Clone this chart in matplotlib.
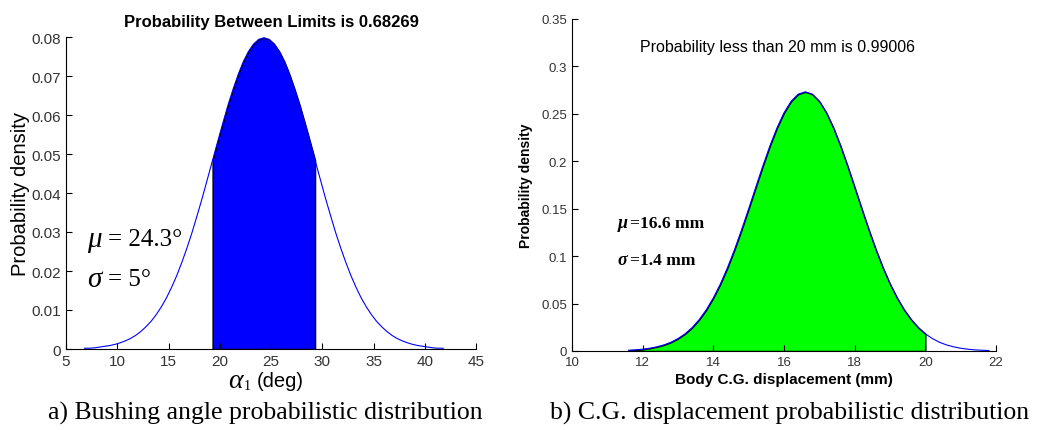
import numpy as np
import matplotlib
matplotlib.use("Agg")
import matplotlib.pyplot as plt

plt.rcParams['font.family'] = ['Liberation Sans', 'DejaVu Sans']

# ---- panel a: bushing angle ----
angle_x = [6.8, 7.3, 7.8, 8.3, 8.8, 9.3, 9.8, 10.3, 10.8, 11.3, 11.8, 12.3,
           12.8, 13.3, 13.8, 14.3, 14.8, 15.3, 15.8, 16.3, 16.8, 17.3, 17.8,
           18.3, 18.8, 19.3, 19.8, 20.3, 20.8, 21.3, 21.8, 22.3, 22.8, 23.3,
           23.8, 24.3, 24.8, 25.3, 25.8, 26.3, 26.8, 27.3, 27.8, 28.3, 28.8,
           29.3, 29.8, 30.3, 30.8, 31.3, 31.8, 32.3, 32.8, 33.3, 33.8, 34.3,
           34.8, 35.3, 35.8, 36.3, 36.8, 37.3, 37.8, 38.3, 38.8, 39.3, 39.8,
           40.3, 40.8, 41.3, 41.8]
angle_pdf = [0.0002, 0.0002, 0.0003, 0.0005, 0.0007, 0.0009, 0.0012, 0.0016,
             0.0021, 0.0027, 0.0035, 0.0045, 0.0057, 0.0071, 0.0088, 0.0108,
             0.0131, 0.0158, 0.0188, 0.0222, 0.0259, 0.0299, 0.0343, 0.0388,
             0.0436, 0.0484, 0.0532, 0.0579, 0.0625, 0.0666, 0.0704, 0.0737,
             0.0763, 0.0782, 0.0794, 0.0798, 0.0794, 0.0782, 0.0763, 0.0737,
             0.0704, 0.0666, 0.0625, 0.0579, 0.0532, 0.0484, 0.0436, 0.0388,
             0.0343, 0.0299, 0.0259, 0.0222, 0.0188, 0.0158, 0.0131, 0.0108,
             0.0088, 0.0071, 0.0057, 0.0045, 0.0035, 0.0027, 0.0021, 0.0016,
             0.0012, 0.0009, 0.0007, 0.0005, 0.0003, 0.0002, 0.0002]
angle_lo, angle_hi = 19.3, 29.3

# ---- panel b: body C.G. displacement ----
cg_x = [11.6, 11.8, 12.0, 12.2, 12.4, 12.6, 12.8, 13.0, 13.2, 13.4, 13.6,
        13.8, 14.0, 14.2, 14.4, 14.6, 14.8, 15.0, 15.2, 15.4, 15.6, 15.8,
        16.0, 16.2, 16.4, 16.6, 16.8, 17.0, 17.2, 17.4, 17.6, 17.8, 18.0,
        18.2, 18.4, 18.6, 18.8, 19.0, 19.2, 19.4, 19.6, 19.8, 20.0, 20.2,
        20.4, 20.6, 20.8, 21.0, 21.2, 21.4, 21.6, 21.8]
cg_pdf = [0.0008, 0.0012, 0.0019, 0.0029, 0.0044, 0.0064, 0.0092, 0.0131,
          0.0181, 0.0247, 0.0331, 0.0434, 0.0560, 0.0707, 0.0878, 0.1069,
          0.1278, 0.1499, 0.1725, 0.1949, 0.2161, 0.2351, 0.2511, 0.2632,
          0.2707, 0.2732, 0.2707, 0.2632, 0.2511, 0.2351, 0.2161, 0.1949,
          0.1725, 0.1499, 0.1278, 0.1069, 0.0878, 0.0707, 0.0560, 0.0434,
          0.0331, 0.0247, 0.0181, 0.0131, 0.0092, 0.0064, 0.0044, 0.0029,
          0.0019, 0.0012, 0.0008, 0.0005]
cg_limit = 20.0

W, H = 1038, 431
fig = plt.figure(figsize=(W/100, H/100), dpi=100)

def style(ax, tsize):
    for s in ['top', 'right']:
        ax.spines[s].set_visible(False)
    ax.tick_params(direction='in', length=4, labelsize=tsize, labelcolor='#333333')

# left
ax1 = fig.add_axes([66/W, 1-350/H, 410/W, 312/H])
style(ax1, 11)
x = np.array(angle_x); y = np.array(angle_pdf)
ax1.plot(x, y, color='blue', lw=0.8)
m = (x >= angle_lo) & (x <= angle_hi)
ax1.fill_between(x[m], y[m], color='blue', edgecolor='black', lw=1)
ax1.set_xlim(5, 45)
ax1.set_ylim(0, 0.08)
ax1.set_xticks(np.arange(5, 46, 5))
ax1.set_yticks([0, 0.01, 0.02, 0.03, 0.04, 0.05, 0.06, 0.07, 0.08])
ax1.set_yticklabels(['0', '0.01', '0.02', '0.03', '0.04', '0.05', '0.06', '0.07', '0.08'])
ax1.set_ylabel('Probability density', fontsize=14.5, labelpad=1)
ax1.set_title('Probability Between Limits is 0.68269', fontsize=12,
              fontweight='bold', pad=8)
ax1.text(0.395, -0.102, 'α', transform=ax1.transAxes, fontsize=20,
         family='Liberation Serif', style='italic',
         ha='left', va='center')
ax1.text(0.433, -0.118, '1', transform=ax1.transAxes, fontsize=10,
         family='Liberation Serif', ha='left', va='center')
ax1.text(0.466, -0.102, '(deg)', transform=ax1.transAxes, fontsize=14.5,
         ha='left', va='center')
ax1.text(7.1, 0.0282, 'μ', fontsize=21, family='Liberation Serif',
         style='italic', va='center')
ax1.text(9.1, 0.0282, '= 24.3°', fontsize=18, family='Liberation Serif', va='center')
ax1.text(7.1, 0.0179, 'σ', fontsize=21, family='Liberation Serif',
         style='italic', va='center')
ax1.text(9.1, 0.0179, '= 5°', fontsize=18, family='Liberation Serif', va='center')

# right
ax2 = fig.add_axes([572/W, 1-352/H, 424/W, 332/H])
style(ax2, 9.5)
x = np.array(cg_x); y = np.array(cg_pdf)
ax2.plot(x, y, color='blue', lw=0.8)
m = x <= cg_limit
ax2.fill_between(x[m], y[m], color='#00ff00', edgecolor='black', lw=1)
ax2.set_xlim(10, 22)
ax2.set_ylim(0, 0.35)
ax2.set_xticks(np.arange(10, 23, 2))
ax2.set_yticks([0, 0.05, 0.1, 0.15, 0.2, 0.25, 0.3, 0.35])
ax2.set_yticklabels(['0', '0.05', '0.1', '0.15', '0.2', '0.25', '0.3', '0.35'])
ax2.set_ylabel('Probability density', fontsize=10, fontweight='bold', labelpad=6)
ax2.set_xlabel('Body C.G. displacement (mm)', fontsize=11, fontweight='bold', labelpad=3)
ax2.text(15.83, 0.3215, 'Probability less than 20 mm is 0.99006', fontsize=11.5,
         ha='center', va='center')
ax2.text(11.3, 0.135, 'μ', fontsize=13, family='Liberation Serif',
         style='italic', fontweight='bold', va='center')
ax2.text(11.64, 0.135, '=16.6 mm', fontsize=12.5, family='Liberation Serif',
         fontweight='bold', va='center')
ax2.text(11.3, 0.096, 'σ', fontsize=13, family='Liberation Serif',
         style='italic', fontweight='bold', va='center')
ax2.text(11.64, 0.096, '=1.4 mm', fontsize=12.5, family='Liberation Serif',
         fontweight='bold', va='center')

# captions
fig.text(265/W, 1-413/H, 'a) Bushing angle probabilistic distribution',
         fontsize=18.5, family='Liberation Serif', ha='center', va='center')
fig.text(790/W, 1-413/H, 'b) C.G. displacement probabilistic distribution',
         fontsize=18.5, family='Liberation Serif', ha='center', va='center')

fig.savefig('out.png', dpi=100)
